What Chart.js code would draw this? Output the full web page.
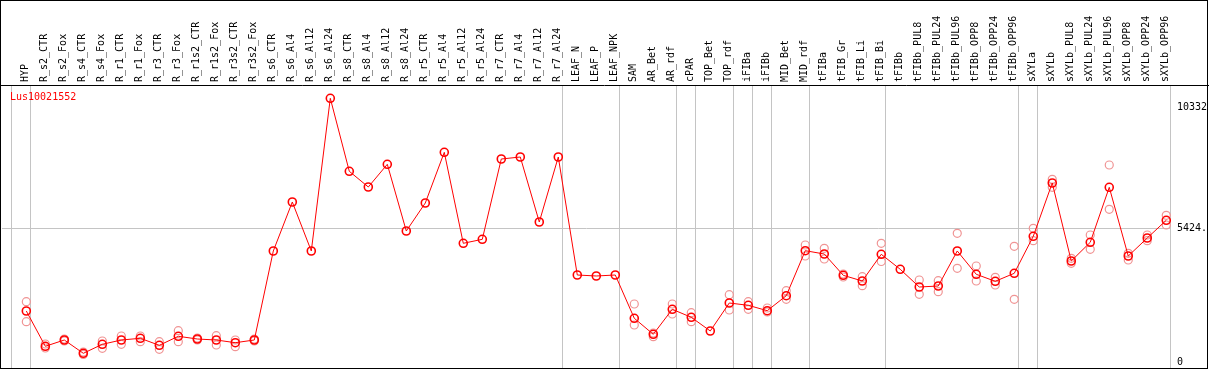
<!DOCTYPE html>
<html>
<head>
<meta charset="utf-8">
<script src="https://cdn.jsdelivr.net/npm/chart.js@4/dist/chart.umd.min.js"></script>
<style>
  html, body { margin: 0; padding: 0; background: #fff; }
  #wrap { width: 1209px; height: 370px; }
</style>
</head>
<body>
<div id="wrap"><canvas id="expr-canvas" width="1209" height="370"></canvas></div>
<script>
// gene shown in the plot
const gene = "Lus10021552";

const samples = [
  "HYP", "R_s2_CTR", "R_s2_Fox", "R_s4_CTR", "R_s4_Fox", "R_r1_CTR", "R_r1_Fox",
  "R_r3_CTR", "R_r3_Fox", "R_r1s2_CTR", "R_r1s2_Fox", "R_r3s2_CTR", "R_r3s2_Fox",
  "R_s6_CTR", "R_s6_Al4", "R_s6_Al12", "R_s6_Al24", "R_s8_CTR", "R_s8_Al4", "R_s8_Al12",
  "R_s8_Al24", "R_r5_CTR", "R_r5_Al4", "R_r5_Al12", "R_r5_Al24", "R_r7_CTR", "R_r7_Al4",
  "R_r7_Al12", "R_r7_Al24", "LEAF_N", "LEAF_P", "LEAF_NPK", "SAM", "AR_Bet", "AR_rdf",
  "cPAR", "TOP_Bet", "TOP_rdf", "iFIBa", "iFIBb", "MID_Bet", "MID_rdf", "tFIBa",
  "tFIB_Gr", "tFIB_Li", "tFIB_Bi", "tFIBb", "tFIBb_PUL8", "tFIBb_PUL24", "tFIBb_PUL96",
  "tFIBb_OPP8", "tFIBb_OPP24", "tFIBb_OPP96", "sXYLa", "sXYLb", "sXYLb_PUL8",
  "sXYLb_PUL24", "sXYLb_PUL96", "sXYLb_OPP8", "sXYLb_OPP24", "sXYLb_OPP96",
];

// mean expression per sample
const meanExpr = [
  2069, 637, 892, 353, 718, 892, 961, 677, 1043, 933, 892, 783, 892,
  4503, 6490, 4503, 10697, 7736, 7099, 8020, 5314, 6450, 8506, 4815, 4977, 8235, 8316, 5679, 8316,
  3529, 3489, 3529,
  1773, 1124, 2138, 1813, 1258, 2393, 2300, 2081, 2689, 4515, 4381, 3517, 3286, 4369,
  3760, 3042, 3083, 4503, 3558, 3274, 3598,
  5099, 7261, 4097, 4856, 7087, 4300, 5030, 5748,
];

// single replicates (upper / lower), null where none is shown
const repHigh = [
  2446, 730, 933, 406, 852, 1055, 1055, 823, 1270, 974, 1067, 892, 933,
  null, null, null, null, null, null, null, null, null, null, null, null, null, null, null, null,
  null, null, null,
  2353, 1176, 2353, 2000, null, 2730, 2446, 2191, 2892, 4746, 4612, 3570, 3460, 4815,
  null, 3326, 3298, 5221, 3894, 3436, 4693,
  5424, 7411, 4207, 5152, 7991, 4409, 5152, 5951,
];
const repLow = [
  1635, 568, 852, 304, 556, 718, 823, 515, 823, 892, 690, 621, 852,
  null, null, null, null, null, null, null, null, null, null, null, null, null, null, null, null,
  null, null, null,
  1501, 1026, 1947, 1635, null, 2109, 2138, 2028, 2543, 4300, 4178, 3448, 3095, 4077,
  null, 2746, 2852, 3801, 3286, 3124, 2543,
  4921, 7087, 4004, 4572, 6194, 4138, 4921, 5557,
];

// last sample (1-based) of each tissue group; 0 = edge before HYP
const groupEnds = [0, 1, 29, 32, 35, 36, 38, 39, 40, 42, 46, 53, 54, 61];

const yTicks = [0, 5424, 10332];
const yTickText = ["0", "5424.", "10332"];

const MONO = "'DejaVu Sans Mono', monospace";
const RED = "#ff0000";
const PALE = "#f09494";
const GRID = "#c4c4c4";

const pts = (arr) => arr.map((v, i) => ({ x: i + 1, y: v }));
const X_MIN = -0.28, X_MAX = 61.25;

// scales must not push the plot area around
const noPad = (s) => {
  s.paddingLeft = 0; s.paddingRight = 0; s.paddingTop = 0; s.paddingBottom = 0;
};

// outer frame, header rule and gene name
const frame = {
  id: "frame",
  afterDraw(chart) {
    const { ctx, width, height } = chart;
    ctx.save();
    ctx.strokeStyle = "#000";
    ctx.lineWidth = 1;
    ctx.strokeRect(0.5, 0.5, width - 2, height - 2);
    ctx.beginPath();
    ctx.moveTo(0, 85.5);
    ctx.lineTo(width, 85.5);
    ctx.stroke();
    ctx.fillStyle = RED;
    ctx.font = `10px ${MONO}`;
    ctx.textBaseline = "middle";
    ctx.fillText(gene, 10, 97);
    ctx.restore();
  },
};

Chart.defaults.font.family = MONO;
Chart.defaults.font.size = 10;
Chart.defaults.color = "#000";

new Chart(document.getElementById("expr-canvas"), {
  type: "line",
  data: {
    datasets: [
      {
        data: pts(meanExpr),
        borderColor: RED,
        borderWidth: 1,
        tension: 0,
        pointRadius: 4,
        pointBorderWidth: 1.6,
        pointBorderColor: RED,
        pointBackgroundColor: "rgba(0,0,0,0)",
        order: 0,
      },
      {
        data: pts(repHigh),
        showLine: false,
        pointRadius: 4,
        pointBorderWidth: 1.2,
        pointBorderColor: PALE,
        pointBackgroundColor: "rgba(0,0,0,0)",
        order: 1,
      },
      {
        data: pts(repLow),
        showLine: false,
        pointRadius: 4,
        pointBorderWidth: 1.2,
        pointBorderColor: PALE,
        pointBackgroundColor: "rgba(0,0,0,0)",
        order: 2,
      },
    ],
  },
  options: {
    responsive: false,
    animation: false,
    events: [],
    layout: { autoPadding: false, padding: { left: 2, right: 0, top: 0, bottom: 1 } },
    plugins: { legend: { display: false }, tooltip: { enabled: false }, title: { display: false } },
    scales: {
      x: {
        type: "linear",
        position: "top",
        min: X_MIN,
        max: X_MAX,
        afterBuildTicks: (s) => { s.ticks = samples.map((_, i) => ({ value: i + 1 })); },
        afterFit: (s) => { s.height = 85; noPad(s); },
        grid: { display: false, drawTicks: false },
        border: { display: false },
        ticks: {
          autoSkip: false,
          minRotation: 90,
          maxRotation: 90,
          padding: 3,
          labelOffset: 11,
          callback: (v, i) => samples[i],
        },
      },
      // group separators
      x2: {
        type: "linear",
        position: "bottom",
        min: X_MIN,
        max: X_MAX,
        afterBuildTicks: (s) => { s.ticks = groupEnds.map((g) => ({ value: g + 0.23 })); },
        afterFit: (s) => { s.height = 0; noPad(s); },
        grid: { color: GRID, lineWidth: 1, drawTicks: false },
        border: { display: false },
        ticks: { display: false },
      },
      y: {
        type: "linear",
        position: "right",
        min: -284,
        max: 11237,
        afterBuildTicks: (s) => { s.ticks = yTicks.map((v) => ({ value: v })); },
        afterFit: (s) => { s.width = 38; noPad(s); },
        grid: {
          drawTicks: false,
          color: (c) => (c.tick && c.tick.value === 5424 ? GRID : "rgba(0,0,0,0)"),
        },
        border: { display: false },
        ticks: {
          padding: 6,
          callback: (v) => yTickText[yTicks.indexOf(v)],
        },
      },
    },
  },
  plugins: [frame],
});
</script>
</body>
</html>
